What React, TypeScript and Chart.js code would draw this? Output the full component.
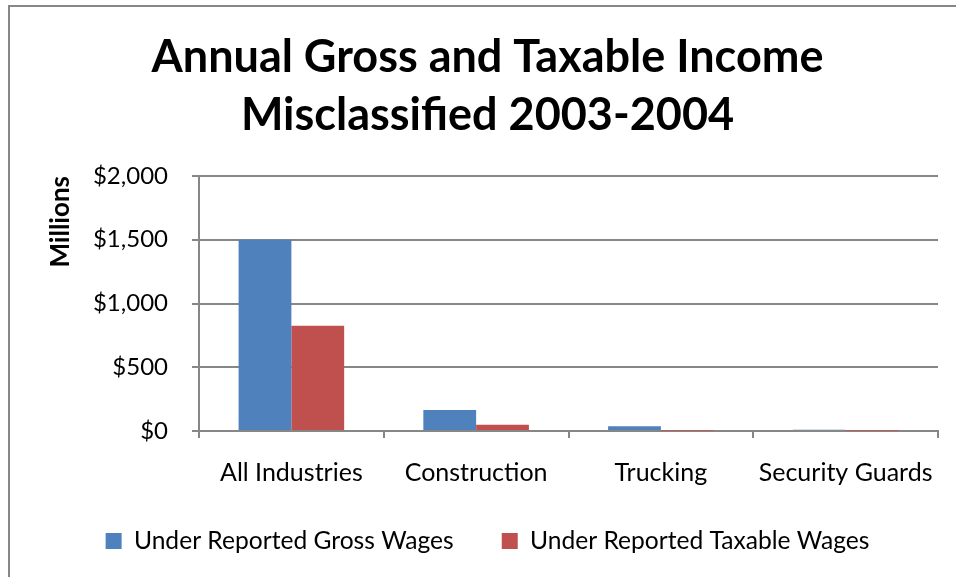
import React, { useEffect, useRef } from "react";
import { Chart, registerables } from "chart.js";

Chart.register(...registerables);

const categories = ["All Industries", "Construction", "Trucking", "Security Guards"];
const grossWages = [1500, 165, 37, 10];
const taxableWages = [825, 50, 2, 1];
const seriesNames = ["Under Reported Gross Wages", "Under Reported Taxable Wages"];
const titleLines = ["Annual Gross and Taxable Income", "Misclassified 2003-2004"];
const yAxisTitle = "Millions";
const yMin = 0;
const yMax = 2000;
const yStep = 500;

const FONT = "Lato, 'Open Sans', sans-serif";
const GRID = "#878787";

const borderPlugin = {
  id: "outerBorder",
  beforeDraw(chart: any) {
    const ctx = chart.ctx;
    ctx.save();
    ctx.strokeStyle = GRID;
    ctx.lineWidth = 2;
    ctx.strokeRect(9, 6, 1000, 1000);
    ctx.restore();
  },
};

export default function App() {
  const ref = useRef<HTMLCanvasElement | null>(null);

  useEffect(() => {
    if (!ref.current) return;
    const chart = new Chart(ref.current, {
      type: "bar",
      data: {
        labels: categories,
        datasets: [
          {
            label: seriesNames[0],
            data: grossWages,
            backgroundColor: "#4F81BD",
            barPercentage: 1,
            categoryPercentage: 0.5714,
          },
          {
            label: seriesNames[1],
            data: taxableWages,
            backgroundColor: "#C0504D",
            barPercentage: 1,
            categoryPercentage: 0.5714,
          },
        ],
      },
      options: {
        responsive: false,
        animation: false,
        devicePixelRatio: 1,
        layout: { padding: { left: 37, right: 18, top: 0, bottom: 13.7 } },
        plugins: {
          title: {
            display: true,
            text: titleLines,
            color: "#000",
            font: { family: FONT, size: 45, weight: "bold", lineHeight: 1.3 },
            padding: { top: 28, bottom: 31 },
          },
          legend: {
            display: true,
            position: "bottom",
            labels: {
              color: "#000",
              font: { family: FONT, size: 24.6 },
              boxWidth: 16,
              boxHeight: 16,
              padding: 48,
            },
          },
          tooltip: { enabled: false },
        },
        scales: {
          x: {
            grid: {
              display: true,
              drawOnChartArea: false,
              drawTicks: true,
              tickLength: 7,
              color: GRID,
              lineWidth: 2,
              offset: true,
            },
            border: { display: true, color: GRID, width: 2 },
            ticks: {
              color: "#000",
              font: { family: FONT, size: 25 },
              padding: 20,
              maxRotation: 0,
              autoSkip: false,
            },
            afterFit(scale: any) {
              scale.height = 49.7;
              scale._computeLabelArea = () => undefined;
            },
          },
          y: {
            min: yMin,
            max: yMax,
            grid: {
              color: GRID,
              lineWidth: 2,
              tickLength: 7,
              drawTicks: true,
            },
            border: { display: true, color: GRID, width: 2 },
            ticks: {
              stepSize: yStep,
              color: "#000",
              font: { family: FONT, size: 24 },
              padding: 24,
              callback: (v: any) => "$" + Number(v).toLocaleString("en-US"),
            },
            title: {
              display: true,
              text: yAxisTitle,
              color: "#000",
              align: "end",
              font: { family: FONT, size: 26, weight: "bold", lineHeight: 1.2 },
              padding: { top: 8, bottom: 0 },
            },
            afterFit(scale: any) {
              scale.width = 162;
            },
          },
        },
      },
      plugins: [borderPlugin],
    });
    return () => chart.destroy();
  }, []);

  return (
    <canvas
      ref={ref}
      width={956}
      height={577}
      style={{ position: "fixed", left: 0, top: 0, display: "block", width: 956, height: 577 }}
    />
  );
}
